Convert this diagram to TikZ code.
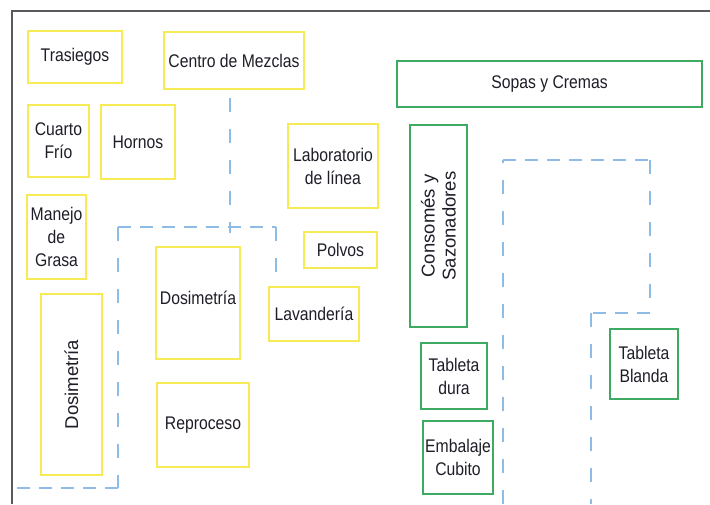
\documentclass[tikz,border=0pt]{standalone}
\usepackage{fontspec}
\setmainfont{Liberation Sans}[FakeStretch=0.86]
\newfontfamily\rotfont{Liberation Sans}
\definecolor{boxyellow}{HTML}{F6EA55}
\definecolor{boxgreen}{HTML}{3FAA62}
\definecolor{zoneblue}{HTML}{8EBCE6}
\definecolor{labeltext}{HTML}{1E1E28}
\definecolor{frame}{HTML}{5A5A5E}
\begin{document}
\begin{tikzpicture}[x=1pt,y=-1pt,
  area/.style={draw, line width=1.3pt, inner sep=1pt, align=center,
    text=labeltext, font=\fontsize{18.3}{23}\selectfont},
  yarea/.style={area, draw=boxyellow},
  garea/.style={area, draw=boxgreen},
  rottext/.style={rotate=90, font=\rotfont\fontsize{18.5}{21}\selectfont},
  hzone/.style={draw=zoneblue, line width=1.5pt, dash pattern=on 13pt off 9pt},
  vzone/.style={draw=zoneblue, line width=1.5pt, dash pattern=on 14pt off 17pt}]
\useasboundingbox (0,0) rectangle (710,504);
\fill[white] (0,0) rectangle (710,504);

% outer frame (left and top walls)
\draw[frame, line width=1.6pt] (12,504) -- (12,11) -- (710,11);

% yellow areas
\node[yarea, minimum width=94pt, minimum height=52pt] (tras) at (75,57) {Trasiegos};
\node[yarea, minimum width=140pt, minimum height=57pt] (mezc) at (234,60.5) {Centro de Mezclas};
\node[yarea, minimum width=61pt, minimum height=72pt] (frio) at (58.5,141) {Cuarto\\Frío};
\node[yarea, minimum width=74pt, minimum height=74pt] (horn) at (138,142) {Hornos};
\node[yarea, minimum width=59pt, minimum height=84pt] (gras) at (56.5,237) {Manejo\\de\\Grasa};
\node[yarea, minimum width=90pt, minimum height=84pt] (labo) at (333,166) {Laboratorio\\de línea};
\node[yarea, minimum width=73pt, minimum height=36pt] (polv) at (340.5,250) {Polvos};
\node[yarea, minimum width=84pt, minimum height=112pt, text depth=10pt] (dosb) at (198,303) {Dosimetría};
\node[yarea, minimum width=61pt, minimum height=181pt] (dosa) at (71.5,384.5) {};
\node[rottext, text=labeltext] at (dosa.center) {Dosimetría};
\node[yarea, minimum width=92pt, minimum height=84pt] (repr) at (203,425) {Reproceso};
\node[yarea, minimum width=90pt, minimum height=54pt] (lava) at (314,314) {Lavandería};

% green areas
\node[garea, minimum width=305pt, minimum height=46pt] (sopa) at (549.5,84) {Sopas y Cremas};
\node[garea, minimum width=57pt, minimum height=202pt] (cons) at (438.5,226) {};
\node[rottext, text=labeltext, align=center] at (cons.center) {Consomés y\\Sazonadores};
\node[garea, minimum width=66pt, minimum height=66pt] (tdur) at (454,376) {Tableta\\dura};
\node[garea, minimum width=70pt, minimum height=73pt] (embc) at (458,457.5) {Embalaje\\Cubito};
\node[garea, minimum width=68pt, minimum height=70pt] (tbla) at (644,364) {Tableta\\Blanda};

% dashed zone limits, left block
\draw[vzone] (230,98) -- (230,233);
\draw[hzone] (118,227) -- (276,227);
\draw[vzone] (276,227) -- (276,280);
\draw[vzone] (118,227) -- (118,488);
\draw[hzone] (118,488) -- (12,488);

% dashed zone limits, right block
\draw[vzone] (503,504) -- (503,160);
\draw[hzone] (503,160) -- (650,160);
\draw[vzone] (650,160) -- (650,313);
\draw[hzone] (650,313) -- (591,313);
\draw[vzone] (591,313) -- (591,504);
\end{tikzpicture}
\end{document}
